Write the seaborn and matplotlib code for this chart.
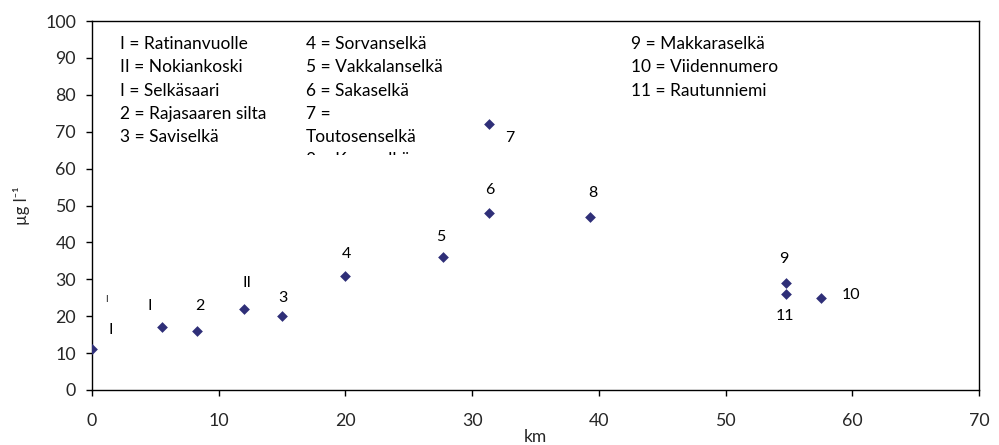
import matplotlib
matplotlib.use("Agg")
import matplotlib.pyplot as plt
from matplotlib.transforms import Bbox, TransformedBbox
import pandas as pd
import seaborn as sns

# Sampling stations along the watercourse: distance (km) and concentration (µg/l)
km = [0.0, 5.5, 8.3, 12.0, 15.0, 20.0, 27.7, 31.3, 31.3, 39.3, 54.75, 54.75, 57.5]
conc = [11, 17, 16, 22, 20, 31, 36, 48, 72, 47, 29, 26, 25]
station_labels = ["I", "I", "2", "II", "3", "4", "5", "6", "7", "8", "9", "11", "10"]
# label offsets from each marker, in pixels (dx, dy)
label_dx = [19, -12, 3, 3, 1, 1, -2, 1, 21, 3, -2, -1, 30]
label_dy = [19, 21, 25, 26, 18, 22, 20, 23, -14, 24, 24, -22, 3]

key_col1 = ["I = Ratinanvuolle", "II = Nokiankoski", "I = Selkäsaari",
            "2 = Rajasaaren silta", "3 = Saviselkä"]
key_col2 = ["4 = Sorvanselkä", "5 = Vakkalanselkä", "6 = Sakaselkä", "7 =",
            "Toutosenselkä", "8 = Karoselkä"]
key_col3 = ["9 = Makkaraselkä", "10 = Viidennumero", "11 = Rautunniemi"]

x_ticks = [0, 10, 20, 30, 40, 50, 60, 70]
y_ticks = [0, 10, 20, 30, 40, 50, 60, 70, 80, 90, 100]

sns.set_theme(style="white")
plt.rcParams["font.family"] = ["Lato", "DejaVu Sans"]

df = pd.DataFrame({"km": km, "conc": conc, "label": station_labels})

fig = plt.figure(figsize=(9.99, 4.45), dpi=100)
ax = fig.add_axes([0.0921, 0.1236, 0.8879, 0.8292])

sns.scatterplot(data=df, x="km", y="conc", marker="D", color="#2f2f78",
                s=30, linewidth=0, ax=ax, zorder=3)

for (_, row), dx, dy in zip(df.iterrows(), label_dx, label_dy):
    ax.annotate(row["label"], (row["km"], row["conc"]), xytext=(dx, dy),
                textcoords="offset pixels", ha="center", va="center",
                fontsize=11.5, color="black")
# small stray mark above the first station
ax.annotate("I", (km[0], conc[0]), xytext=(14, 50), textcoords="offset pixels",
            ha="center", va="center", fontsize=6.5, color="black")

ax.set_xlim(0, 70)
ax.set_ylim(0, 100)
ax.set_xticks(x_ticks)
ax.set_yticks(y_ticks)
ax.tick_params(axis="both", which="major", direction="out", length=4.5,
               width=1, color="black", labelsize=12.8, bottom=True, left=True)
ax.tick_params(axis="x", pad=12)
ax.tick_params(axis="y", pad=7)

for sp in ax.spines.values():
    sp.set_color("black")
    sp.set_linewidth(1.0)

ax.set_xlabel("km", fontsize=12.5)
ax.xaxis.set_label_coords(0.5, -0.127)
ax.xaxis.label.set_va("center")
ax.set_ylabel("µg l⁻¹", fontsize=12)
ax.yaxis.set_label_coords(-0.079, 0.5)
ax.yaxis.label.set_va("center")

# station key written inside the plot area; the last line is cut off
row0 = 0.938
step = 0.0632
clip_box = TransformedBbox(Bbox([[0, 0.637], [1, 1]]), ax.transAxes)
for col_x, lines in [(0.0316, key_col1), (0.241, key_col2), (0.608, key_col3)]:
    for i, t in enumerate(lines):
        txt = ax.text(col_x, row0 - i * step, t, transform=ax.transAxes,
                      ha="left", va="center", fontsize=12.5, color="black")
        txt.set_clip_box(clip_box)
        txt.set_clip_on(True)

fig.savefig("out.png", dpi=100)
